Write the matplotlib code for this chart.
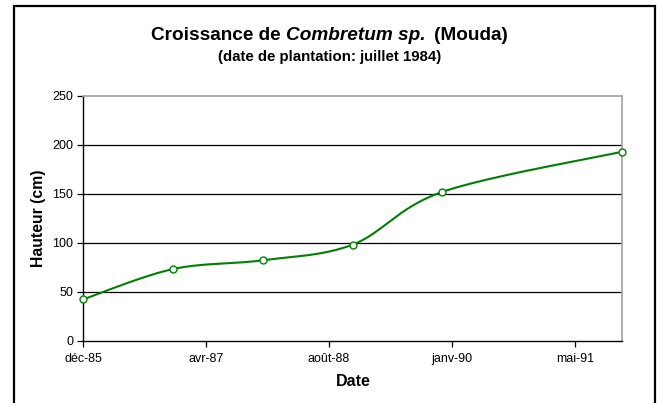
import datetime as dt

import matplotlib
matplotlib.use("Agg")
import matplotlib.dates as mdates
import matplotlib.pyplot as plt
import numpy as np
from matplotlib.patches import Rectangle

# mesures (hauteur en cm), une par an environ
dates = ["1985-12-01", "1986-12-01", "1987-12-01", "1988-12-01", "1989-12-01", "1991-12-01"]
hauteur = [42, 73, 82, 98, 152, 193]
tick_labels = ["déc-85", "avr-87", "août-88", "janv-90", "mai-91"]
TICK_STEP_DAYS = 500
y_ticks = [0, 50, 100, 150, 200, 250]

FONT = "Liberation Sans"
GREEN = "#008000"

plt.rcParams["font.family"] = [FONT, "DejaVu Sans"]

x = mdates.date2num([dt.datetime.strptime(d, "%Y-%m-%d") for d in dates])
y = np.array(hauteur, dtype=float)


def smooth(xs, ys, n=60):
    """courbe lissée façon Excel (Bézier / Catmull-Rom)"""
    P = np.column_stack([xs, ys])
    P = np.vstack([P[0], P, P[-1]])
    out = []
    for i in range(1, len(P) - 2):
        p0, p1, p2, p3 = P[i - 1], P[i], P[i + 1], P[i + 2]
        c1 = p1 + (p2 - p0) / 6
        c2 = p2 - (p3 - p1) / 6
        t = np.linspace(0, 1, n)[:, None]
        seg = ((1 - t) ** 3 * p1 + 3 * (1 - t) ** 2 * t * c1
               + 3 * (1 - t) * t ** 2 * c2 + t ** 3 * p2)
        out.append(seg if i == 1 else seg[1:])
    out = np.vstack(out)
    return out[:, 0], out[:, 1]


W, H = 659, 403
fig = plt.figure(figsize=(W / 100, H / 100), dpi=100)
ax = fig.add_axes([83 / W, 1 - 340.5 / H, (622 - 83) / W, (340.5 - 96) / H])

sx, sy = smooth(x, y)
ax.plot(sx, sy, color=GREEN, lw=1.5, zorder=3)
ax.plot(x, y, "o", ms=5, mfc="white", mec=GREEN, mew=1.0, zorder=4, clip_on=False)

ax.set_xlim(x[0], x[-1])
ax.set_ylim(0, 250)
xt = [x[0] + TICK_STEP_DAYS * k for k in range(len(tick_labels))]
ax.set_xticks(xt)
ax.set_xticklabels(tick_labels)
ax.set_yticks(y_ticks)
for v in y_ticks[1:-1]:
    ax.axhline(v, color="black", lw=0.9, zorder=1)

ax.tick_params(axis="both", direction="out", length=4, width=0.9, colors="black",
               labelsize=9, pad=3)
ax.tick_params(axis="x", pad=5)
for s in ["left", "bottom"]:
    ax.spines[s].set_color("black")
    ax.spines[s].set_linewidth(1.0)
for s in ["top", "right"]:
    ax.spines[s].set_color("#a0a0a0")
    ax.spines[s].set_linewidth(1.2)

fig.text(38.5 / W, 1 - 218 / H, "Hauteur (cm)", rotation=90, ha="center", va="center",
         fontsize=11.3, fontweight="bold")
fig.text(353 / W, 1 - 381.5 / H, "Date", ha="center", va="center",
         fontsize=11.5, fontweight="bold")

# titre en trois morceaux (partie en italique)
fig.canvas.draw()
r = fig.canvas.get_renderer()
TS = 13.7
pieces = [("Croissance de", "normal"), ("Combretum sp.", "italic"), ("(Mouda)", "normal")]
texts = []
for s, st in pieces:
    texts.append(fig.text(0, 1 - 36 / H, s, fontsize=TS, fontweight="bold", style=st,
                          va="center", ha="left"))
probe1 = fig.text(0, 0, "a a", fontsize=TS, fontweight="bold")
probe2 = fig.text(0, 0, "aa", fontsize=TS, fontweight="bold")
gap = probe1.get_window_extent(r).width - probe2.get_window_extent(r).width
probe1.remove()
probe2.remove()
widths = [t.get_window_extent(r).width for t in texts]
gaps = [gap, gap * 1.6]
total = sum(widths) + sum(gaps)
xpos = W / 2 - total / 2
for i, t in enumerate(texts):
    t.set_x(xpos / W)
    xpos += widths[i] + (gaps[i] if i < len(gaps) else 0)

fig.text(0.5, 1 - 56.5 / H, "(date de plantation: juillet 1984)", ha="center", va="center",
         fontsize=10.8, fontweight="bold")

# cadre extérieur
fig.patches.append(Rectangle((14 / W, -0.05), (655 - 14) / W, 1.05 - 6 / H,
                             transform=fig.transFigure, fill=False, ec="black", lw=1.6))

fig.savefig("out.png", dpi=100)
